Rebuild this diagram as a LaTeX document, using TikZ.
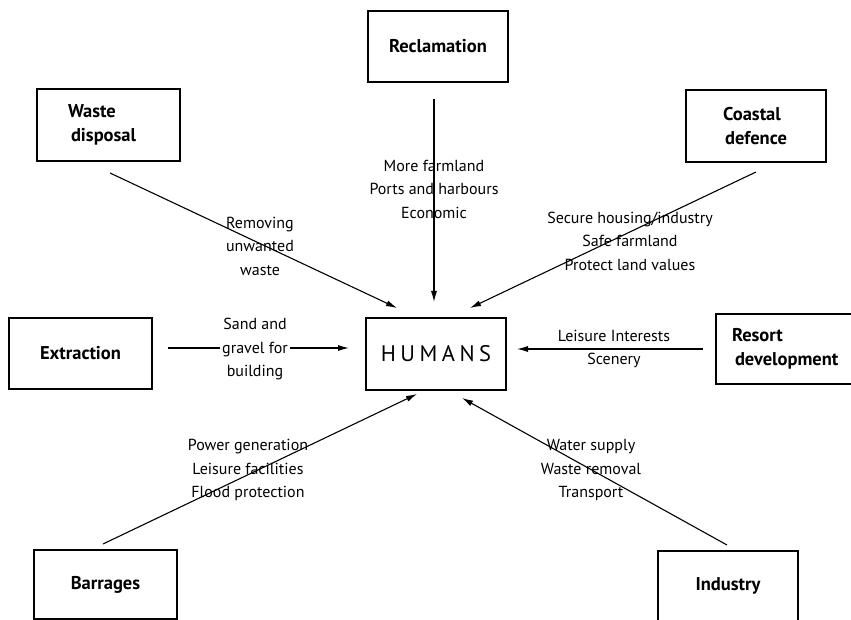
\documentclass[tikz,border=0pt]{standalone}
\usepackage{fontspec}
\setmainfont{PT Sans}
\usetikzlibrary{arrows.meta}
\newcommand\spacedhumans{H\kern4.5pt U\kern4.5pt M\kern4.5pt A\kern4.5pt N\kern4.5pt S}
\begin{document}
\begin{tikzpicture}[x=1pt,y=-1pt,
  box/.style={draw,line width=1.2pt,inner sep=0pt,font=\fontsize{18.5}{23.5}\selectfont\bfseries},
  lab/.style={align=center,inner sep=0pt,font=\fontsize{16}{23.5}\selectfont},
  arr/.style={line width=1.1pt,-{Latex[length=11pt,width=6pt]}}]
\clip (0,0) rectangle (851,620);
\fill[white] (0,0) rectangle (851,620);
% boxes
\node[box,minimum width=140pt,minimum height=71pt] (recl) at (438,46.5) {Reclamation};
\node[box,minimum width=143pt,minimum height=72pt,text width=81pt,align=left] (waste) at (108.5,125) {Waste\\\hspace*{3pt}disposal};
\node[box,minimum width=140pt,minimum height=72pt,align=center] (coast) at (756,126) {\hspace*{-8pt}Coastal\\defence};
\node[draw,line width=1.2pt,minimum width=140pt,minimum height=72pt,inner sep=0pt,font=\fontsize{22.5}{24}\selectfont] (hum) at (436,354) {\spacedhumans};
\node[box,minimum width=143pt,minimum height=71pt] (extr) at (80.5,353.5) {Extraction};
\node[box,minimum width=150pt,minimum height=70pt,text width=118pt,align=left] (res) at (791,349) {Resort\\\hspace*{3pt}development};
\node[box,minimum width=143pt,minimum height=69pt] (barr) at (105.5,584.5) {Barrages};
\node[box,minimum width=140pt,minimum height=70pt] (ind) at (728,586) {Industry};
% connector ends
\coordinate (r1) at (434,99);   \coordinate (r2) at (434,302);
\coordinate (w1) at (110,173);  \coordinate (w2) at (397,308);
\coordinate (c1) at (756,172);  \coordinate (c2) at (470,308);
\coordinate (e1) at (168,348);  \coordinate (e2) at (349,348);
\coordinate (s1) at (703,349);  \coordinate (s2) at (517,349);
\coordinate (b1) at (103,544);  \coordinate (b2) at (417,394);
\coordinate (i1) at (727,545);  \coordinate (i2) at (462,398);
\draw[arr] (r1) -- (r2);
\draw[arr] (w1) -- (w2);
\draw[arr] (c1) -- (c2);
\draw[arr] (e1) -- (e2);
\draw[arr] (s1) -- (s2);
\draw[arr] (b1) -- (b2);
\draw[arr] (i1) -- (i2);
% labels
\node[lab] (lr) at (434,189) {More farmland\\Ports and harbours\\Economic};
\node[lab] (lw) at (260,246) {Removing\\unwanted\\waste};
\node[lab] (lc) at (630,241) {Secure housing/industry\\Safe farmland\\Protect land values};
\node[lab,fill=white,inner xsep=2pt] (le) at (255,349) {Sand and\\gravel for\\building};
\node[lab] (ls) at (614,349) {Leisure Interests\\Scenery};
\node[lab] (lb) at (248,470) {Power generation\\Leisure facilities\\Flood protection};
\node[lab] (li) at (591,470) {Water supply\\Waste removal\\Transport};
\end{tikzpicture}
\end{document}
